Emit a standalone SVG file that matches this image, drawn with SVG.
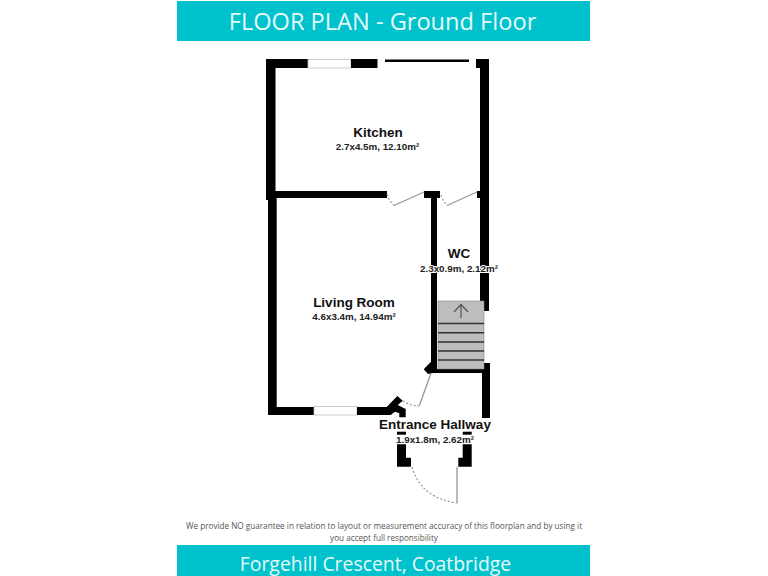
<svg xmlns="http://www.w3.org/2000/svg" width="768" height="576" viewBox="0 0 768 576">
<style>
.band{fill:#00c2cc}
.bt{font-family:"Open Sans",sans-serif;fill:#e6fafa;text-anchor:middle}
.w{fill:#000}
.win{fill:#fff;stroke:#b8c2c8;stroke-width:.8}
.door{fill:none;stroke:#8c9aa6;stroke-width:1.3}
.arc{fill:none;stroke:#8c9aa6;stroke-width:1.2;stroke-dasharray:2 2}
.step{stroke:#333;stroke-width:1.4}
.n{font-family:"Liberation Sans",Arial,sans-serif;font-weight:700;font-size:13.5px;fill:#111;text-anchor:middle;paint-order:stroke;stroke:#fff;stroke-width:2px}
.d{font-family:"Liberation Sans",Arial,sans-serif;font-weight:700;font-size:9.8px;fill:#222;text-anchor:middle;paint-order:stroke;stroke:#fff;stroke-width:2px}
.note{font-family:"Open Sans",sans-serif;font-size:8.17px;fill:#555;text-anchor:middle}
</style>
<rect width="768" height="576" fill="#fff"/>
<g id="header"><rect class="band" x="177" y="1" width="413" height="40"/><text class="bt" x="382.500" y="30" font-size="23.600">FLOOR PLAN - Ground Floor</text></g>
<g id="footer"><rect class="band" x="177" y="545" width="413" height="31"/><text class="bt" x="375.500" y="571" font-size="19.400">Forgehill Crescent, Coatbridge</text></g>
<g id="disclaimer"><text class="note" x="384" y="529">We provide NO guarantee in relation to layout or measurement accuracy of this floorplan and by using it</text><text class="note" x="384" y="541">you accept full responsibility</text></g>
<g id="walls">
<rect class="w" x="266" y="59" width="42" height="9"/>
<rect class="win" x="308" y="59.500" width="43" height="8.500"/>
<rect class="w" x="351" y="59" width="26.500" height="9"/>
<rect class="w" x="385" y="59.500" width="84" height="2.500"/>
<rect class="w" x="476" y="59" width="13" height="9"/>
<rect class="w" x="266" y="59" width="9.500" height="141"/>
<rect class="w" x="480" y="59" width="9" height="252"/>
<rect class="w" x="266" y="191" width="121" height="7"/>
<rect class="w" x="424" y="191" width="16" height="7"/>
<rect class="w" x="477" y="191" width="3" height="7"/>
<rect class="w" x="431" y="198" width="6" height="175"/>
<rect class="w" x="431" y="369" width="53" height="4"/>
<rect class="w" x="482" y="363" width="8" height="55"/>
<polygon class="w" points="423.700,369.300 431,361.700 433,373 428,374"/>
<rect class="w" x="268" y="198" width="8.700" height="217"/>
<rect class="w" x="268" y="407" width="46" height="8"/>
<rect class="win" x="314" y="406.500" width="43" height="8.500"/>
<polygon class="w" points="357,407 386.700,407 397.300,396 402.700,400.700 397.700,405 405.700,409 405.700,417.300 399.300,417.300 399.300,413.300 395,411.700 390.700,415 357,415"/>
<rect class="w" x="397" y="431.700" width="9" height="3"/>
<polygon class="w" points="397,444.300 406,444.300 406,457.700 411,457.700 411,466.700 397,466.700"/>
<rect class="w" x="462.700" y="431.700" width="9" height="3"/>
<polygon class="w" points="462.700,444.300 471.700,444.300 471.700,466.700 458.300,466.700 458.300,457.700 462.700,457.700"/>
</g>
<g id="stairs">
<rect x="438" y="301" width="46" height="68" fill="#bdbdbd" stroke="#888" stroke-width=".6"/>
<path class="step" d="M438 323.500H484M438 332.700H484M438 342H484M438 351H484M438 360H484"/>
<path d="M461 318V304.500M454 312L461 304.500L468 312" fill="none" stroke="#555" stroke-width="1.200"/>
</g>
<g id="connectors">
<path class="door" d="M394 205.500L424 192"/><path class="arc" d="M387 194Q389 201 394 205.500"/>
<path class="door" d="M447 205.500L477 192"/><path class="arc" d="M441 195Q443 201 447 205.500"/>
<path class="door" d="M430.700 374L419.300 405.700"/><path class="arc" d="M402.700 400.700Q410 406 419.300 405.700"/>
<path class="door" d="M457 467V503"/><path class="arc" d="M412 467Q421 498 457 503"/>
</g>
<g id="kitchen"><text class="n" x="378" y="137">Kitchen</text><text class="d" x="377.500" y="150">2.7x4.5m, 12.10m²</text></g>
<g id="wc"><text class="n" x="459" y="258">WC</text><text class="d" x="459" y="272">2.3x0.9m, 2.12m²</text></g>
<g id="living-room"><text class="n" x="354" y="307">Living Room</text><text class="d" x="354" y="320">4.6x3.4m, 14.94m²</text></g>
<g id="entrance-hallway"><text class="n" x="435" y="429">Entrance Hallway</text><text class="d" x="435" y="443">1.9x1.8m, 2.62m²</text></g>
</svg>
